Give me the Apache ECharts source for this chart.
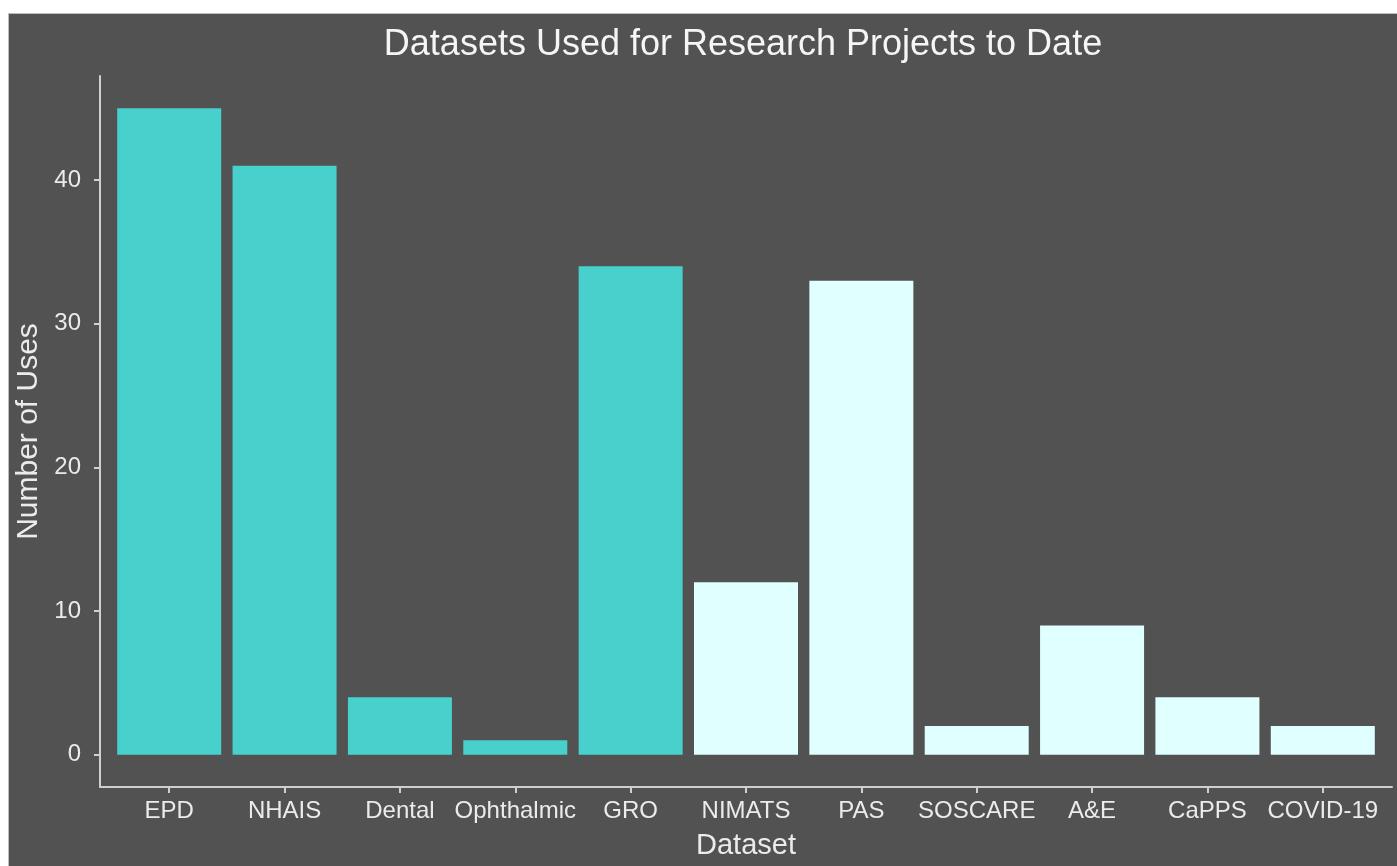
<!DOCTYPE html>
<html>
<head>
<meta charset="utf-8">
<script src="https://cdn.jsdelivr.net/npm/echarts@6/dist/echarts.min.js"></script>
<style>
html,body{margin:0;padding:0;background:#ffffff;width:1397px;height:866px;overflow:hidden;}
#chart{position:absolute;left:8px;top:13px;width:1389px;height:853px;box-sizing:border-box;border-left:1px solid #bdbdbd;border-top:1px solid #bdbdbd;}
</style>
</head>
<body>
<div id="chart"></div>
<script>
const categories = ["EPD","NHAIS","Dental","Ophthalmic","GRO","NIMATS","PAS","SOSCARE","A&E","CaPPS","COVID-19"];
const uses = [45, 41, 4, 1, 34, 12, 33, 2, 9, 4, 2];
const groups = [0, 0, 0, 0, 0, 1, 1, 1, 1, 1, 1];
const groupColors = ["#48D1CC", "#E0FFFF"];
const yTicks = [0, 10, 20, 30, 40];

const textColor = "#ebebeb";
const lineColor = "#d0d0d0";
const font = "'Liberation Sans', Arial, sans-serif";

const chart = echarts.init(document.getElementById('chart'), null, {renderer: 'canvas'});
const xIdx = categories.map((c, i) => i);
chart.setOption({
  backgroundColor: "#525252",
  animation: false,
  title: {
    text: "Datasets Used for Research Projects to Date",
    left: 729, top: 8, textAlign: 'center',
    textStyle: {color: "#f5f5f5", fontFamily: font, fontSize: 36, fontWeight: 'normal'}
  },
  grid: {left: 91, top: 62, right: 5, bottom: 79, containLabel: false, outerBoundsMode: 'none'},
  xAxis: {
    type: 'value', min: -0.6, max: 10.6,
    splitLine: {show: false},
    axisLine: {show: true, onZero: false, lineStyle: {color: lineColor, width: 2}},
    axisTick: {show: true, length: 6, lineStyle: {color: lineColor, width: 2}, customValues: xIdx},
    axisLabel: {
      customValues: xIdx, margin: 12, color: textColor, fontFamily: font, fontSize: 24,
      formatter: v => categories[Math.round(v)] || ''
    },
    name: "Dataset", nameLocation: 'middle', nameGap: 44,
    nameTextStyle: {color: textColor, fontFamily: font, fontSize: 29}
  },
  yAxis: {
    type: 'value', min: -2.25, max: 47.25,
    splitLine: {show: false},
    axisLine: {show: true, onZero: false, lineStyle: {color: lineColor, width: 2}},
    axisTick: {show: true, length: 6, lineStyle: {color: lineColor, width: 2}, customValues: yTicks},
    axisLabel: {customValues: yTicks, margin: 19, color: textColor, fontFamily: font, fontSize: 24},
    name: "Number of Uses", nameLocation: 'middle', nameGap: 36, nameRotate: 90,
    nameTextStyle: {color: textColor, fontFamily: font, fontSize: 30}
  },
  series: [{
    type: 'bar',
    barWidth: 104,
    data: uses.map((v, i) => ({value: [i, v], itemStyle: {color: groupColors[groups[i]]}}))
  }]
});
</script>
</body>
</html>
